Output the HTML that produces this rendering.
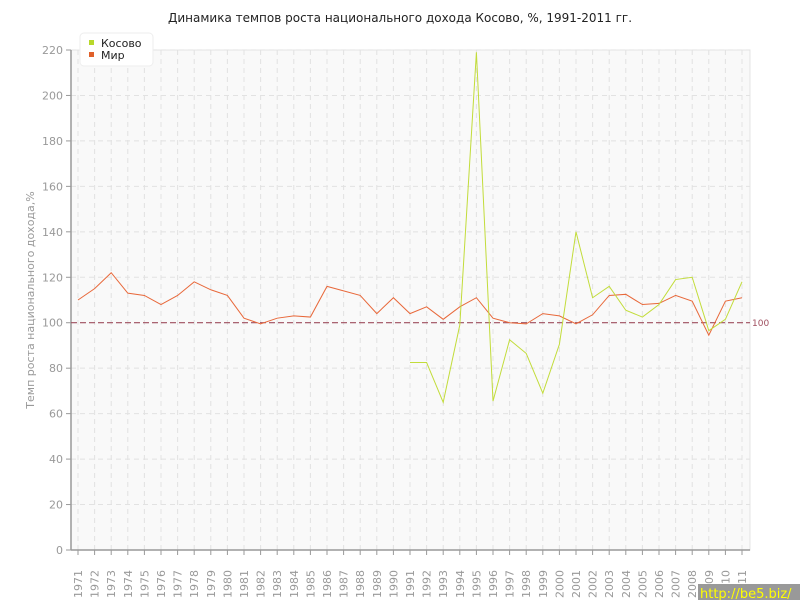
<!DOCTYPE html>
<html><head><meta charset="utf-8"><style>
body{margin:0;background:#fff;font-family:"Liberation Sans","DejaVu Sans",sans-serif;}
</style></head><body>
<svg width="800" height="600" xmlns="http://www.w3.org/2000/svg" font-family="DejaVu Sans, Liberation Sans, sans-serif">
<rect width="800" height="600" fill="#fff"/>
<text x="400" y="22" text-anchor="middle" font-size="12" fill="#222">Динамика темпов роста национального дохода Косово, %, 1991-2011 гг.</text>
<rect x="71" y="50" width="679" height="500" fill="#f9f9f9" stroke="#e4e4e4"/>
<g id="grid" stroke="#e2e2e2" stroke-dasharray="5,4"></g>
<line x1="71" y1="50" x2="71" y2="550" stroke="#999" stroke-width="1.5"/>
<line x1="71" y1="550" x2="750" y2="550" stroke="#999" stroke-width="1.5"/>
<g id="yl" font-size="11" fill="#999" text-anchor="end"></g>
<g id="xl" font-size="11" fill="#999"></g>
<line x1="71" y1="322.7" x2="750" y2="322.7" stroke="#a05060" stroke-dasharray="6,3" stroke-width="1.2"/>
<text x="752" y="326" font-size="9" fill="#a05060">100</text>
<polyline id="mir" fill="none" stroke="#e8683a" stroke-width="1"/>
<polyline id="kos" fill="none" stroke="#c2dc3a" stroke-width="1"/>
<text transform="translate(34,300) rotate(-90)" text-anchor="middle" font-size="11" fill="#999">Темп роста национального дохода,%</text>
<rect x="80" y="33" width="73" height="33" rx="4" fill="#fff" stroke="#eee"/>
<rect x="89" y="40" width="5" height="5" fill="#b8d82a"/>
<rect x="89" y="52" width="5" height="5" fill="#e0602a"/>
<text x="101" y="47" font-size="11" fill="#222">Косово</text>
<text x="101" y="59" font-size="11" fill="#222">Мир</text>
<rect x="698" y="584" width="102" height="16" fill="#999"/>
<text x="700" y="598" font-size="13" fill="#ff0">http://be5.biz/</text>
</svg>
<script>
const X=y=>78+(y-1971)*16.6, Y=v=>550-v*500/220;
const mir=[110,115,122,113,112,108,112,118,114.5,112,102,99.5,102,103,102.5,116,114,112,104,111,104,107,101.5,107,111,102,100,99.5,104,103,99.5,103.5,112,112.5,108,108.5,112,109.5,94.5,109.5,111];
const kos=[82.5,82.5,65,99,219,65.5,92.5,86.5,69,90.5,140,111,116,105.5,102.5,108,119,120,96.5,101.5,118];
const ns="http://www.w3.org/2000/svg";
document.getElementById('mir').setAttribute('points',mir.map((v,i)=>X(1971+i)+','+Y(v)).join(' '));
document.getElementById('kos').setAttribute('points',kos.map((v,i)=>X(1991+i)+','+Y(v)).join(' '));
const g=document.getElementById('grid'),yl=document.getElementById('yl'),xl=document.getElementById('xl');
function el(p,t,a){const e=document.createElementNS(ns,t);for(const k in a)e.setAttribute(k,a[k]);p.appendChild(e);return e;}
for(let v=0;v<=220;v+=20){const y=Y(v);if(v>0)el(g,'line',{x1:71,y1:y,x2:750,y2:y});el(yl.parentNode,'line',{x1:66,y1:y,x2:71,y2:y,stroke:'#999'});const t=el(yl,'text',{x:63,y:y+4});t.textContent=v;}
for(let yr=1971;yr<=2011;yr++){const x=X(yr);el(g,'line',{x1:x,y1:50,x2:x,y2:550});el(xl.parentNode,'line',{x1:x,y1:550,x2:x,y2:555,stroke:'#999'});const t=el(xl,'text',{transform:`translate(${x+4},${598}) rotate(-90)`});t.textContent=yr;}
</script>
</body></html>
